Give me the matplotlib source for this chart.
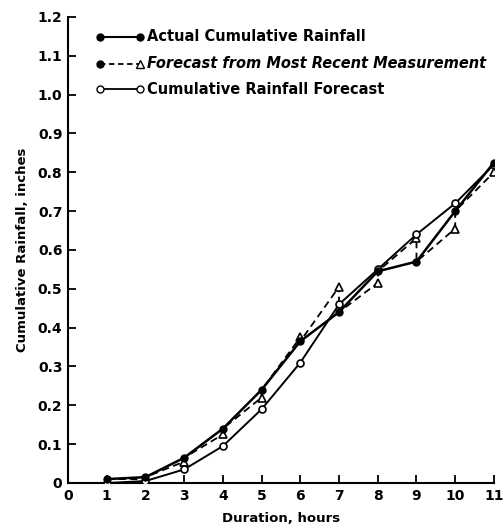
import matplotlib.pyplot as plt
import numpy as np

# Werte
hours = [1, 2, 3, 4, 5, 6, 7, 8, 9, 10, 11]
actual = [0.01, 0.015, 0.065, 0.14, 0.24, 0.365, 0.44, 0.545, 0.57, 0.70, 0.825]
cum_forecast = [0.0, 0.005, 0.035, 0.095, 0.19, 0.31, 0.46, 0.55, 0.64, 0.72, 0.82]
recent_hours = [2, 3, 4, 5, 6, 7, 8, 9, 10, 11]
recent_forecast = [0.01, 0.055, 0.125, 0.22, 0.375, 0.505, 0.515, 0.63, 0.655, 0.80]

x_ticks = list(range(0, 12))
y_ticks = [0, 0.1, 0.2, 0.3, 0.4, 0.5, 0.6, 0.7, 0.8, 0.9, 1.0, 1.1, 1.2]
y_ticklabels = ['0', '0.1', '0.2', '0.3', '0.4', '0.5', '0.6', '0.7', '0.8', '0.9', '1.0', '1.1', '1.2']

plt.rcParams['font.family'] = ['DejaVu Sans']
plt.rcParams['font.weight'] = 'bold'

fig = plt.figure(figsize=(5.04, 5.29), dpi=100)
ax = fig.add_axes([0.135, 0.087, 0.845, 0.881])

# Zickzack: Messung (h) -> Vorhersage (h+1) -> Messung (h+1)
zx, zy = [hours[0]], [actual[0]]
for h, f in zip(recent_hours, recent_forecast):
    zx += [h, h]
    zy += [f, actual[hours.index(h)]]
ax.plot(zx, zy, color='black', lw=1.3, ls=(0, (4, 2.5)), zorder=2)
ax.plot(recent_hours, recent_forecast, ls='none', marker='^', ms=5.5,
        mfc='white', mec='black', mew=1.2, zorder=3)

ax.plot(hours, cum_forecast, color='black', lw=1.4, marker='o', ms=5,
        mfc='white', mec='black', mew=1.2, zorder=3)
ax.plot(hours, actual, color='black', lw=1.8, marker='o', ms=5,
        mfc='black', mec='black', zorder=4)

ax.set_xlim(0, 11)
ax.set_ylim(0, 1.2)
ax.set_xticks(x_ticks)
ax.set_yticks(y_ticks)
ax.set_yticklabels(y_ticklabels)
ax.tick_params(direction='in', length=6, width=1.3, labelsize=10, pad=4)
for s in ['top', 'right']:
    ax.spines[s].set_visible(False)
for s in ['left', 'bottom']:
    ax.spines[s].set_linewidth(1.5)

ax.set_xlabel('Duration, hours', fontsize=9.5, fontweight='bold', labelpad=7)
ax.set_ylabel('Cumulative Rainfall, inches', fontsize=9.5, fontweight='bold', labelpad=6)

# Legende von Hand
ly = [0.957, 0.899, 0.845]
lx0, lx1, tx = 0.075, 0.169, 0.185
ax.plot([lx0, lx1], [ly[0], ly[0]], color='black', lw=1.5, marker='o', ms=5,
        mfc='black', transform=ax.transAxes, clip_on=False)
ax.plot([lx0, lx1], [ly[1], ly[1]], color='black', lw=1.3, ls=(0, (3, 2)),
        transform=ax.transAxes, clip_on=False)
ax.plot([lx0], [ly[1]], ls='none', marker='o', ms=5, mfc='black', mec='black',
        transform=ax.transAxes, clip_on=False)
ax.plot([lx1], [ly[1]], ls='none', marker='^', ms=5.5, mfc='white', mec='black',
        transform=ax.transAxes, clip_on=False)
ax.plot([lx0, lx1], [ly[2], ly[2]], color='black', lw=1.3, marker='o', ms=5,
        mfc='white', mec='black', transform=ax.transAxes, clip_on=False)

ax.text(tx, ly[0], 'Actual Cumulative Rainfall', transform=ax.transAxes,
        fontsize=10.5, fontweight='bold', va='center')
ax.text(tx, ly[1], 'Forecast from Most Recent Measurement', transform=ax.transAxes,
        fontsize=10.5, fontweight='bold', style='italic', va='center')
ax.text(tx, ly[2], 'Cumulative Rainfall Forecast', transform=ax.transAxes,
        fontsize=10.5, fontweight='bold', va='center')

fig.savefig('out.png', dpi=100)
